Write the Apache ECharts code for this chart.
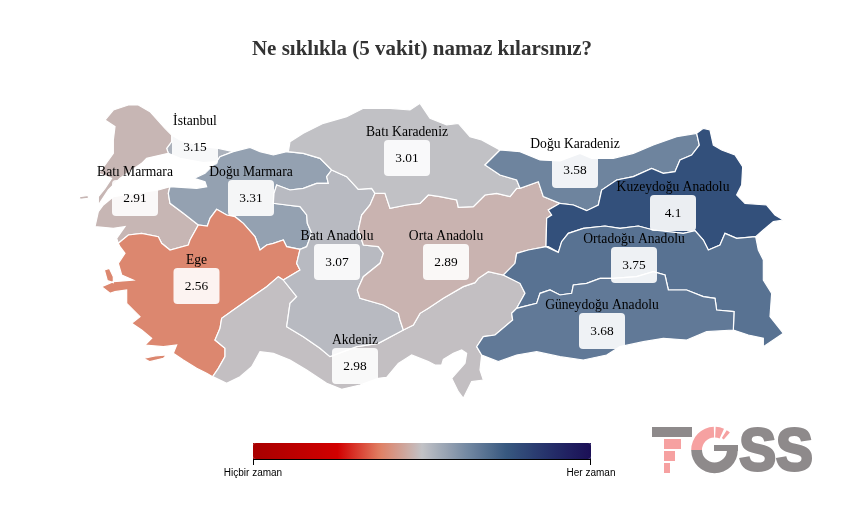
<!DOCTYPE html>
<html lang="tr">

<head>
    <meta charset="UTF-8">
    <title>Ne sıklıkla (5 vakit) namaz kılarsınız?</title>
    <style>
        html, body { margin: 0; padding: 0; background: #fff; }
        #main { width: 844px; height: 506px; }
    </style>
    <script src="https://cdn.jsdelivr.net/npm/echarts@6/dist/echarts.min.js"></script>
</head>

<body>
    <div id="main"></div>
    <script>
        // bolgeler ve ortalamalar
        const regionNames = ['İstanbul', 'Batı Marmara', 'Doğu Marmara', 'Ege', 'Akdeniz', 'Batı Anadolu', 'Orta Anadolu',
            'Batı Karadeniz', 'Doğu Karadeniz', 'Kuzeydoğu Anadolu', 'Ortadoğu Anadolu', 'Güneydoğu Anadolu'];
        const regionValues = [3.15, 2.91, 3.31, 2.56, 2.98, 3.07, 2.89, 3.01, 3.58, 4.1, 3.75, 3.68];

        // etiket kutularinin merkezleri (sayfa pikseli)
        const labelAnchors = [[195, 147], [135, 198], [251, 198], [196.5, 286], [355, 366], [337, 262], [446, 262],
            [407, 158], [575, 170], [673, 213], [634, 265], [602, 331]];

        // renk skalasi 1..5
        const scaleColors = ['#a80000', '#bc0000', '#d20000', '#e07f63', '#c2c2c6', '#788ca4', '#37587f', '#25306a', '#1b0f56'];
        const scaleEnds = ['Hiçbir zaman', 'Her zaman'];

        // bolge sinirlari (elle cizildi)
        const regionPaths = {
            'İstanbul': 'M305 135 330 150 400 170 445 175 490 185 450 200 440 215 400 218 330 205 295 190 290 175 305 155Z',
            'Batı Marmara': 'M130 60 175 45 205 45 240 65 285 115 305 135 305 155 290 175 295 190 230 205 215 220 150 265 115 300 85 345 85 320 105 295 125 265 85 250 105 225 130 190 130 150 135 110 105 90Z' +
                'M300 290 295 310 300 340 340 370 385 405 360 450 355 465 300 480 275 460 265 440 215 430 175 435 145 460 140 445 165 410 130 415 75 410 85 365 100 345 130 320 265 300Z' +
                'M28 320 55 316 55 325 30 328Z',
            'Doğu Marmara': 'M440 215 450 200 490 185 540 172 570 185 610 195 650 185 700 190 750 205 785 240 770 260 775 280 740 280 700 295 660 300 620 285 612 310 610 340 650 345 690 350 710 375 712 400 725 430 710 470 690 478 650 470 640 450 610 460 590 465 570 480 555 440 520 400 495 380 470 375 440 358 420 385 412 408 385 405 340 370 300 340 295 310 300 290 380 295 410 290 405 275 372 265 405 250Z',
            'Ege': 'M145 460 175 435 215 430 265 440 275 460 300 480 355 465 360 450 385 405 412 408 420 385 440 358 470 375 495 380 520 400 555 440 570 480 590 465 610 460 640 450 650 470 690 478 680 520 690 540 640 570 625 560 590 590 540 625 490 660 455 685 450 715 435 750 465 775 465 800 445 835 428 860 410 850 380 835 340 810 310 790 320 765 280 770 225 765 245 745 215 720 185 700 210 680 170 640 170 600 135 605 120 610 95 590 130 575 190 570 155 555 145 520 165 490 150 470Z' +
                'M103 540 118 535 130 560 130 578 112 572Z' +
                'M220 805 255 798 290 795 280 805 240 815Z',
            'Akdeniz': 'M625 560 640 570 680 620 660 640 650 710 700 740 750 775 780 800 860 770 925 760 1000 720 1030 705 1050 670 1075 655 1120 625 1180 590 1215 578 1225 565 1255 545 1300 555 1350 580 1365 610 1340 655 1325 670 1328 690 1275 735 1240 740 1220 770 1235 795 1230 840 1240 870 1205 875 1180 925 1165 905 1145 865 1185 820 1190 790 1175 780 1150 790 1120 808 1115 825 1095 825 1075 815 1025 795 985 820 950 862 925 865 870 885 815 898 770 880 710 840 660 810 610 790 570 785 545 830 510 860 470 880 428 860 445 835 465 800 465 775 435 750 450 715 455 685 490 660 540 625 590 590Z',
            'Batı Anadolu': 'M785 240 830 260 865 298 905 295 915 310 900 345 875 375 865 420 880 465 925 470 940 490 930 520 880 560 862 600 870 625 940 645 985 670 990 690 1000 720 925 760 860 770 780 800 750 775 700 740 650 710 660 640 680 620 640 570 690 540 680 520 690 478 710 470 725 430 712 400 710 375 690 350 650 345 610 340 612 310 620 285 660 300 700 295 740 280 775 280 770 260Z',
            'Orta Anadolu': 'M915 310 945 310 960 355 1010 345 1050 340 1075 315 1110 320 1160 330 1165 352 1210 350 1245 315 1280 310 1320 320 1340 295 1350 295 1405 275 1420 320 1470 340 1435 360 1445 375 1430 385 1428 470 1375 480 1340 490 1335 520 1300 555 1255 545 1225 565 1215 578 1180 590 1120 625 1075 655 1050 670 1030 705 1000 720 990 690 985 670 940 645 870 625 862 600 880 560 930 520 940 490 925 470 880 465 865 420 875 375 900 345Z',
            'Batı Karadeniz': 'M655 185 660 155 700 130 760 100 830 80 880 55 960 55 1020 60 1050 40 1080 85 1130 105 1165 100 1200 140 1235 150 1290 180 1245 225 1290 255 1340 270 1350 295 1340 295 1320 320 1280 310 1245 315 1210 350 1165 352 1160 330 1110 320 1075 315 1050 340 1010 345 960 355 945 310 915 310 905 295 865 298 830 260 785 240 750 205 700 190Z',
            'Doğu Karadeniz': 'M1245 225 1290 180 1350 185 1410 210 1470 213 1530 190 1565 205 1630 205 1690 190 1750 165 1820 140 1880 130 1888 165 1865 195 1830 210 1815 245 1780 250 1745 235 1690 260 1640 270 1595 300 1585 345 1550 362 1510 345 1470 340 1420 320 1405 275 1350 295 1340 270 1290 255Z',
            'Kuzeydoğu Anadolu': 'M1880 130 1900 115 1920 120 1930 165 1955 180 1995 195 2018 230 2015 285 2000 315 2025 340 2090 345 2115 375 2140 390 2110 395 2080 420 2057 440 2000 445 1965 430 1950 465 1915 480 1900 450 1875 422 1840 430 1750 420 1705 408 1650 415 1605 408 1540 415 1495 430 1475 455 1465 487 1435 470 1428 470 1430 385 1445 375 1435 360 1470 340 1510 345 1550 362 1585 345 1595 300 1640 270 1690 260 1745 235 1780 250 1815 245 1830 210 1865 195 1888 165Z',
            'Ortadoğu Anadolu': 'M1428 470 1465 487 1475 455 1495 430 1540 415 1605 408 1650 415 1705 408 1750 420 1840 430 1875 422 1900 450 1915 480 1950 465 1965 430 2000 445 2057 440 2065 480 2080 510 2080 570 2105 610 2100 680 2140 730 2080 770 2080 745 2035 735 1990 720 1992 665 1940 660 1935 625 1900 620 1850 600 1795 600 1785 555 1750 545 1700 560 1630 565 1590 565 1550 580 1510 585 1505 610 1470 615 1440 600 1410 610 1400 640 1360 650 1340 655 1365 610 1350 580 1300 555 1335 520 1340 490 1375 480Z',
            'Güneydoğu Anadolu': 'M1340 655 1360 650 1400 640 1410 610 1440 600 1470 615 1505 610 1510 585 1550 580 1590 565 1630 565 1700 560 1750 545 1785 555 1795 600 1850 600 1900 620 1935 625 1940 660 1992 665 1990 720 1910 725 1850 750 1780 745 1720 755 1650 770 1610 795 1540 810 1470 800 1400 785 1340 795 1285 815 1235 795 1220 770 1240 740 1275 735 1328 690 1325 670Z'
        };

        let svgParts = regionNames.map(name => '<path name="' + name + '" d="' + regionPaths[name] + '"/>');
        let mapSvg = '<svg xmlns="http://www.w3.org/2000/svg" width="2532" height="1518" viewBox="-210 -270 2532 1518">' + svgParts.join('') + '</svg>';
        echarts.registerMap('tr_bolgeler', { svg: mapSvg });

        let myChart = echarts.init(document.getElementById('main'));

        // geo koordinatlari svg width/height uzerinden, sayfanin 3 kati
        const mapScale = 3;

        const logoGray = '#8e8a8b';
        const logoPink = '#f6a1a1';
        const logoCenter = [714.5, 450];

        function logoSector(start, end, r0, r, color) {
            return {
                type: 'sector',
                shape: { cx: logoCenter[0], cy: logoCenter[1], r0: r0, r: r, startAngle: start, endAngle: end },
                style: { fill: color }
            };
        }

        // visualMap cubugunun yuvarlak koselerini kapatir
        function barCorner(x, y, color) {
            return { type: 'rect', shape: { x: x, y: y, width: 3, height: 3 }, style: { fill: color } };
        }

        let option = {
            backgroundColor: '#fff',
            animation: false,
            title: {
                text: 'Ne sıklıkla (5 vakit) namaz kılarsınız?',
                left: 'center',
                top: 34,
                textStyle: { fontFamily: 'Liberation Serif', fontSize: 21, fontWeight: 'bold', color: '#333' }
            },
            geo: {
                map: 'tr_bolgeler',
                roam: false,
                aspectScale: 1,
                layoutCenter: ['50%', '50%'],
                layoutSize: 844,
                silent: true,
                label: { show: false },
                itemStyle: { areaColor: '#c2c2c6', borderColor: '#fff', borderWidth: 1.2 }
            },
            visualMap: {
                type: 'continuous',
                min: 1,
                max: 5,
                seriesIndex: 0,
                orient: 'horizontal',
                left: 253,
                top: 443,
                padding: 0,
                itemWidth: 16,
                itemHeight: 338,
                calculable: false,
                hoverLink: false,
                showLabel: false,
                text: null,
                inRange: { color: scaleColors }
            },
            series: [
                {
                    type: 'map',
                    geoIndex: 0,
                    silent: true,
                    data: regionNames.map((name, i) => ({ name: name, value: regionValues[i] }))
                },
                {
                    type: 'scatter',
                    coordinateSystem: 'geo',
                    geoIndex: 0,
                    symbolSize: 1,
                    silent: true,
                    z: 10,
                    itemStyle: { color: 'transparent', opacity: 1 },
                    label: {
                        show: true,
                        position: 'inside',
                        offset: [0, -8],
                        formatter: p => '{n|' + p.name + '}\n{v|' + p.value[2] + '}',
                        rich: {
                            n: { fontFamily: 'Liberation Serif', fontSize: 13.6, color: '#000', height: 16, lineHeight: 16 },
                            v: {
                                fontFamily: 'Liberation Serif', fontSize: 13.4, color: '#000',
                                width: 46, height: 36, lineHeight: 36, align: 'center',
                                backgroundColor: 'rgba(255,255,255,0.9)', borderRadius: 4
                            }
                        }
                    },
                    data: regionNames.map((name, i) => ({ name: name, value: [labelAnchors[i][0] * mapScale, labelAnchors[i][1] * mapScale, regionValues[i]] }))
                }
            ],
            graphic: [
                barCorner(253, 443, '#a80000'),
                barCorner(253, 456, '#a80000'),
                barCorner(588, 443, '#1b0f56'),
                barCorner(588, 456, '#1b0f56'),
                // skala alt cizgisi
                { type: 'line', shape: { x1: 253, y1: 459.5, x2: 591, y2: 459.5 }, style: { stroke: '#000', lineWidth: 1 } },
                { type: 'line', shape: { x1: 253.5, y1: 459, x2: 253.5, y2: 465 }, style: { stroke: '#000', lineWidth: 1 } },
                { type: 'line', shape: { x1: 590.5, y1: 459, x2: 590.5, y2: 465 }, style: { stroke: '#000', lineWidth: 1 } },
                { type: 'text', x: 253, y: 473, style: { text: scaleEnds[0], font: '10px "Liberation Sans"', fill: '#000', textAlign: 'center', textVerticalAlign: 'middle' } },
                { type: 'text', x: 591, y: 473, style: { text: scaleEnds[1], font: '10px "Liberation Sans"', fill: '#000', textAlign: 'center', textVerticalAlign: 'middle' } },
                // TGSS logosu
                { type: 'rect', shape: { x: 652, y: 427, width: 40, height: 10 }, style: { fill: logoGray } },
                { type: 'rect', shape: { x: 664, y: 439, width: 17, height: 10 }, style: { fill: logoPink } },
                { type: 'rect', shape: { x: 664, y: 451, width: 11, height: 10 }, style: { fill: logoPink } },
                { type: 'rect', shape: { x: 664, y: 463, width: 6, height: 10 }, style: { fill: logoPink } },
                logoSector(Math.PI, 1.5 * Math.PI - 0.03, 12.5, 23.3, logoPink),
                logoSector(1.5 * Math.PI + 0.05, 1.5 * Math.PI + 0.42, 12.5, 23.3, logoPink),
                logoSector(1.5 * Math.PI + 0.55, 1.5 * Math.PI + 0.72, 14, 23.3, logoPink),
                logoSector(0, Math.PI, 12.5, 23.3, logoGray),
                { type: 'rect', shape: { x: 714, y: 445, width: 24, height: 6 }, style: { fill: logoGray } },
                {
                    type: 'text', x: 776, y: 453, scaleX: 0.92,
                    style: {
                        text: 'SS', font: 'bold 60px "Liberation Sans"', fill: logoGray, stroke: logoGray, lineWidth: 3,
                        textAlign: 'center', textVerticalAlign: 'middle'
                    }
                }
            ]
        };
        myChart.setOption(option);
    </script>
</body>

</html>
